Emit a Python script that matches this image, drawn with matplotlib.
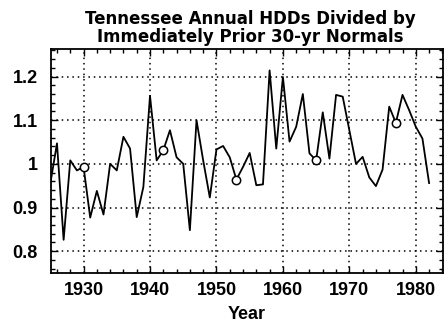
import matplotlib.pyplot as plt
from matplotlib.ticker import MultipleLocator

plt.rcParams['font.family'] = ['Liberation Sans', 'DejaVu Sans']

years = list(range(1925, 1983))
ratio = [0.955, 1.047, 0.826, 1.008, 0.985, 0.993, 0.877, 0.938, 0.884, 1.0,
         0.985, 1.062, 1.035, 0.878, 0.947, 1.156, 1.008, 1.031, 1.077, 1.015,
         1.0, 0.848, 1.1, 1.008, 0.923, 1.033, 1.041, 1.015, 0.964, 0.993,
         1.025, 0.951, 0.953, 1.214, 1.035, 1.199, 1.051, 1.085, 1.16, 1.024,
         1.008, 1.118, 1.012, 1.158, 1.154, 1.077, 1.0, 1.016, 0.969, 0.949,
         0.987, 1.131, 1.094, 1.158, 1.123, 1.085, 1.058, 0.956]
circle_years = [1930, 1942, 1953, 1965, 1977]
circle_vals = [ratio[years.index(y)] for y in circle_years]

fig = plt.figure(figsize=(4.45, 3.23), dpi=100)
ax = fig.add_axes([0.1146, 0.1548, 0.881, 0.692])

ax.plot(years, ratio, color='black', lw=1.3)
ax.plot(circle_years, circle_vals, 'o', mfc='white', mec='black', ms=6, mew=1.1)

ax.set_xlim(1925.1, 1984.1)
ax.set_ylim(0.75, 1.262)
ax.xaxis.set_major_locator(MultipleLocator(10))
ax.xaxis.set_minor_locator(MultipleLocator(2))
ax.yaxis.set_minor_locator(MultipleLocator(0.02))
ax.set_yticks([0.8, 0.9, 1.0, 1.1, 1.2])
ax.set_yticklabels(['0.8', '0.9', '1', '1.1', '1.2'])
for lab in ax.get_xticklabels() + ax.get_yticklabels():
    lab.set_fontweight('bold')

ax.grid(True, which='major', color='black', linestyle=(0, (1, 2.5)), lw=1.1)
ax.tick_params(which='both', direction='in', top=True, right=True, labelsize=13, width=1)
ax.tick_params(which='major', length=5)
ax.tick_params(which='minor', length=3)
ax.tick_params(axis='y', pad=9.4)
ax.tick_params(axis='x', pad=6.5)
for s in ax.spines.values():
    s.set_linewidth(1.3)

ax.set_xlabel('Year', fontsize=13, fontweight='bold', labelpad=5)
fig.suptitle('Tennessee Annual HDDs Divided by\nImmediately Prior 30-yr Normals',
             x=0.563, y=0.968, fontsize=12, fontweight='bold', linespacing=0.95,
             family=['DejaVu Sans'])

fig.savefig('out.png', dpi=100)
